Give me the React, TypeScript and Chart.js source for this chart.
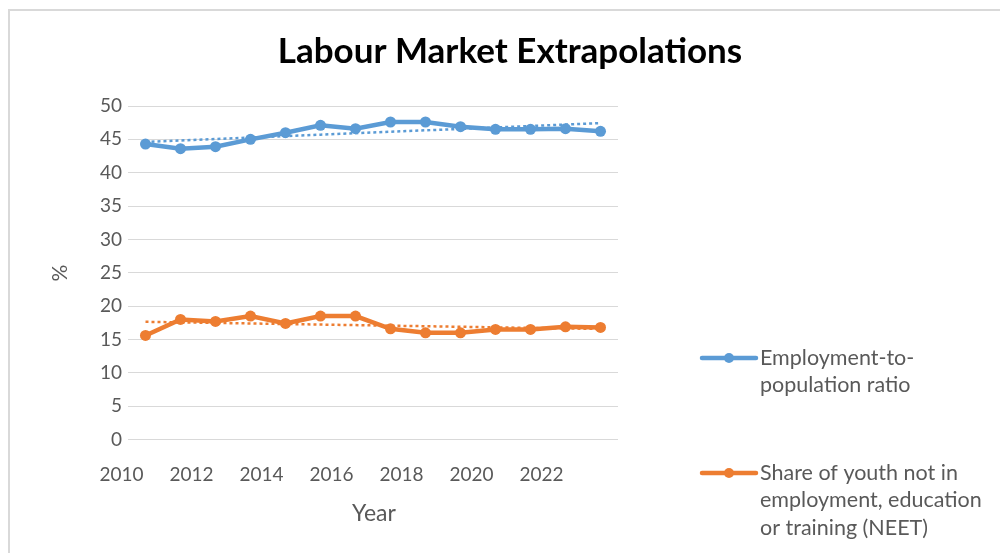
import React, { useEffect, useRef } from 'react';
import { Chart, registerables } from 'chart.js';

Chart.register(...registerables);

const years = ['2010', '2011', '2012', '2013', '2014', '2015', '2016', '2017', '2018', '2019', '2020', '2021', '2022', '2023'];
const employment = [44.3, 43.6, 43.9, 45.0, 46.0, 47.1, 46.6, 47.6, 47.6, 46.9, 46.5, 46.5, 46.6, 46.2];
const neet = [15.6, 18.0, 17.7, 18.5, 17.4, 18.5, 18.5, 16.6, 16.0, 16.0, 16.5, 16.5, 16.9, 16.8];
const shownYearLabels = ['2010', '2012', '2014', '2016', '2018', '2020', '2022'];
const chartTitle = 'Labour Market Extrapolations';
const yAxisTitle = '%';
const xAxisTitle = 'Year';
const employmentLegend = ['Employment-to-', 'population ratio'];
const neetLegend = ['Share of youth not in', 'employment, education', 'or training (NEET)'];

const BLUE = '#5B9BD5';
const ORANGE = '#ED7D31';
const TEXT = '#595959';
const GRID = '#d9d9d9';
const FONT = 'Lato, "Open Sans", sans-serif';

function linearTrend(values: number[]): number[] {
  const n = values.length;
  const mx = (n - 1) / 2;
  const my = values.reduce((a, b) => a + b, 0) / n;
  let num = 0;
  let den = 0;
  values.forEach((v, i) => {
    num += (i - mx) * (v - my);
    den += (i - mx) * (i - mx);
  });
  const slope = num / den;
  return values.map((_, i) => my + slope * (i - mx));
}

const decorPlugin = {
  id: 'decor',
  afterDraw(chart: any) {
    const ctx = chart.ctx as CanvasRenderingContext2D;
    const area = chart.chartArea;
    ctx.save();
    // title
    ctx.fillStyle = '#000000';
    ctx.font = `bold 35px ${FONT}`;
    ctx.textAlign = 'center';
    ctx.textBaseline = 'middle';
    ctx.fillText(chartTitle, 510, 52);
    // axis titles
    ctx.fillStyle = TEXT;
    ctx.font = `23px ${FONT}`;
    ctx.fillText(xAxisTitle, (area.left + area.right) / 2 + 1, 514);
    ctx.save();
    ctx.translate(60, 273);
    ctx.rotate(-Math.PI / 2);
    ctx.font = `21px ${FONT}`;
    ctx.fillText(yAxisTitle, 0, 0);
    ctx.restore();
    // legend
    const entries = [
      { color: BLUE, lines: employmentLegend, y: 358 },
      { color: ORANGE, lines: neetLegend, y: 473 },
    ];
    entries.forEach((e) => {
      ctx.strokeStyle = e.color;
      ctx.lineWidth = 4.5;
      ctx.lineCap = 'round';
      ctx.beginPath();
      ctx.moveTo(702, e.y);
      ctx.lineTo(756, e.y);
      ctx.stroke();
      ctx.fillStyle = e.color;
      ctx.beginPath();
      ctx.arc(729, e.y, 5, 0, Math.PI * 2);
      ctx.fill();
      ctx.fillStyle = TEXT;
      ctx.font = `21.5px ${FONT}`;
      ctx.textAlign = 'left';
      ctx.textBaseline = 'middle';
      e.lines.forEach((line, i) => {
        ctx.fillText(line, 760, e.y + i * 27.5);
      });
    });
    ctx.restore();
  },
};

export default function App() {
  const canvasRef = useRef<HTMLCanvasElement | null>(null);

  useEffect(() => {
    if (!canvasRef.current) return;
    const chart = new Chart(canvasRef.current, {
      type: 'line',
      data: {
        labels: years,
        datasets: [
          {
            label: 'Employment-to-population ratio',
            data: employment,
            borderColor: BLUE,
            backgroundColor: BLUE,
            borderWidth: 4.5,
            pointRadius: 5.5,
            pointHoverRadius: 5.5,
            pointBorderWidth: 0,
            tension: 0,
            order: 1,
          },
          {
            label: 'Share of youth not in employment, education or training (NEET)',
            data: neet,
            borderColor: ORANGE,
            backgroundColor: ORANGE,
            borderWidth: 4.5,
            pointRadius: 5.5,
            pointHoverRadius: 5.5,
            pointBorderWidth: 0,
            tension: 0,
            order: 1,
          },
          {
            label: 'trend-employment',
            data: linearTrend(employment),
            borderColor: BLUE,
            borderWidth: 2.5,
            borderDash: [3, 3],
            pointRadius: 0,
            tension: 0,
            order: 2,
          },
          {
            label: 'trend-neet',
            data: linearTrend(neet),
            borderColor: ORANGE,
            borderWidth: 2.5,
            borderDash: [3, 3],
            pointRadius: 0,
            tension: 0,
            order: 2,
          },
        ],
      },
      options: {
        responsive: false,
        animation: false,
        devicePixelRatio: 1,
        layout: { padding: { top: 106, right: 382, left: 0, bottom: 0 } },
        plugins: {
          legend: { display: false },
          title: { display: false },
          tooltip: { enabled: false },
        },
        scales: {
          x: {
            type: 'category',
            offset: true,
            grid: { display: false },
            border: { display: false },
            ticks: {
              autoSkip: false,
              maxRotation: 0,
              minRotation: 0,
              color: TEXT,
              font: { family: FONT, size: 19 },
              padding: 16,
              labelOffset: -24,
              callback: (_v: any, idx: number) => (shownYearLabels.includes(years[idx]) ? years[idx] : ''),
            },
            afterFit: (scale: any) => {
              scale.height = 113.5;
            },
          },
          y: {
            min: 0,
            max: 50,
            grid: { color: GRID, lineWidth: 1, drawTicks: false },
            border: { display: false },
            ticks: {
              stepSize: 5,
              color: TEXT,
              font: { family: FONT, size: 19 },
              padding: 6,
            },
            afterFit: (scale: any) => {
              scale.width = 128;
            },
          },
        },
      },
      plugins: [decorPlugin],
    });
    return () => chart.destroy();
  }, []);

  return (
    <div style={{ position: 'fixed', left: 0, top: 0, width: 1000, height: 553, background: '#fff', overflow: 'hidden' }}>
      <div
        style={{
          position: 'absolute',
          left: 8,
          top: 9,
          width: 1100,
          height: 700,
          borderTop: `2px solid ${GRID}`,
          borderLeft: `2px solid ${GRID}`,
        }}
      />
      <canvas ref={canvasRef} width={1000} height={553} style={{ position: 'absolute', left: 0, top: 0, width: 1000, height: 553 }} />
    </div>
  );
}
